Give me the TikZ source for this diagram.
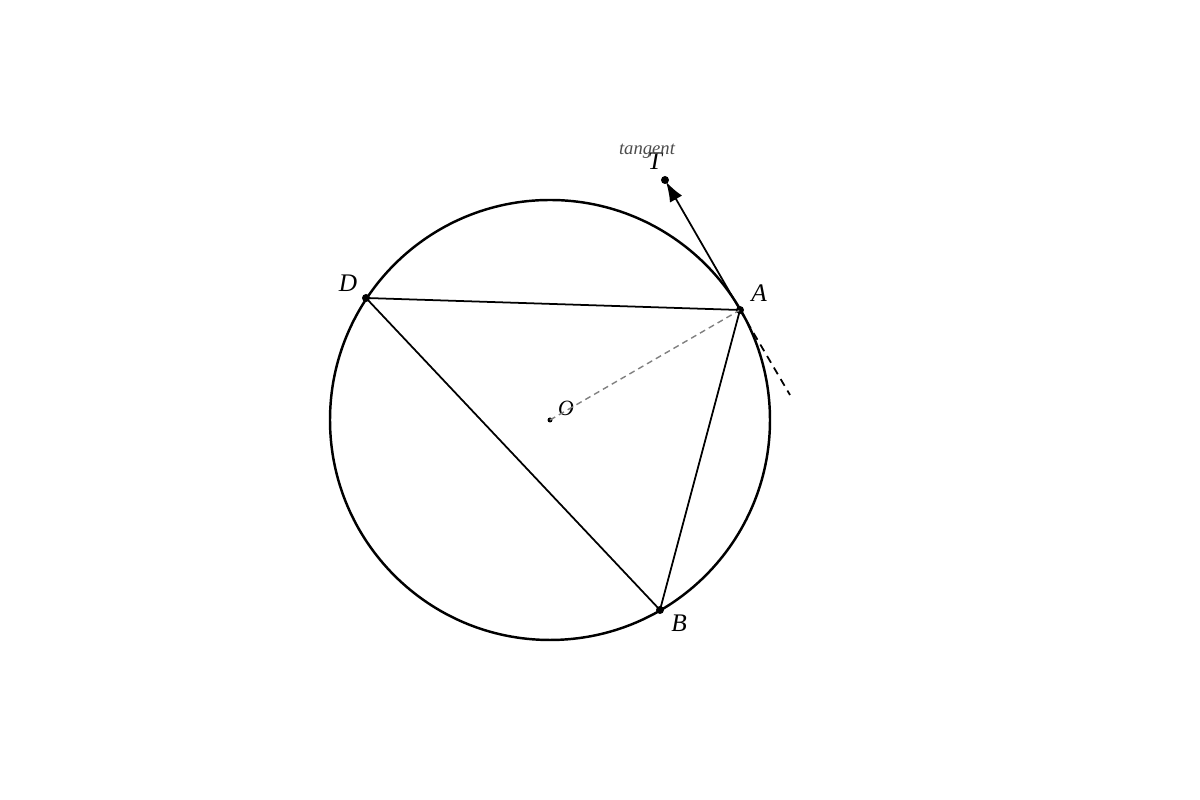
\documentclass[tikz,border=0pt]{standalone}
\usepackage{fontspec}
\setmainfont{Liberation Serif}
\usetikzlibrary{arrows.meta, positioning}

\begin{document}
\begin{tikzpicture}[
        x=1cm, y=1cm,
        % Style des points
        dot/.style={
            circle,
            fill=black,
            inner sep=0pt,
            minimum size=0.08cm
        },
        % Style des étiquettes
        ptlabel/.style={
            font=\itshape\fontsize{7.2}{8}\selectfont,
            inner sep=0pt
        },
        % Style des cordes
        chord/.style={
            line width=0.5pt
        }
    ]
    \useasboundingbox (0,0) rectangle (12,8);

    % --- CERCLE ---
    \node [dot, minimum size=0.05cm] (O) at (5.5,3.8) {};
    \draw [line width=0.7pt] (O.center) circle (2.2);

    % --- POINTS ---
    \node [dot] (A) at (7.4,4.9) {};
    \node [dot] (D) at (3.66,5.02) {};
    \node [dot] (B) at (6.6,1.9) {};
    \node [dot] (T) at (6.65,6.2) {};
    \coordinate (E) at (7.9,4.05);

    % --- ÉTIQUETTES ---
    \node [ptlabel] at (3.48,5.17) {D};
    \node [ptlabel] at (7.59,5.07) {A};
    \node [ptlabel] at (6.79,1.77) {B};
    \node [ptlabel] at (6.55,6.39) {T};
    \node [ptlabel, font=\itshape\fontsize{6.2}{7}\selectfont] at (5.66,3.92) {O};
    \node [ptlabel, font=\itshape\fontsize{5.3}{6}\selectfont, text=black!70] at (6.47,6.49) {tangent};

    % --- CORDES ---
    \draw [chord] (D.center) -- (A.center);
    \draw [chord] (A.center) -- (B.center);
    \draw [chord] (B.center) -- (D.center);
    \draw [chord, gray, line width=0.4pt, dash pattern=on 1.7pt off 1.2pt] (O.center) -- (A.center);

    % --- TANGENTE ---
    \draw [chord, -{Latex[length=0.2cm, width=0.14cm]}, shorten >=0.02cm] (A.center) -- (T.center);
    \draw [chord, dash pattern=on 2.2pt off 1.6pt] (A.center) -- (E);

\end{tikzpicture}
\end{document}
